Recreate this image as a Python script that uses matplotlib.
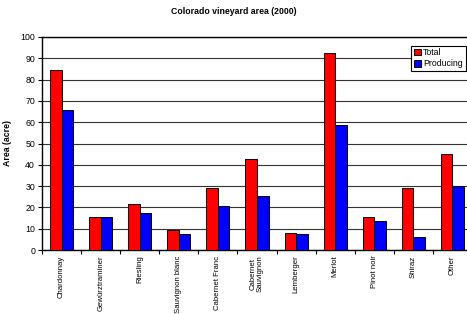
import numpy as np
import matplotlib.pyplot as plt

# Colorado vineyard area (2000), acres
varieties = ["Chardonnay", "Gewürztraminer", "Riesling", "Sauvignon blanc",
             "Cabernet Franc", "Cabernet\nSauvignon", "Lemberger", "Merlot",
             "Pinot noir", "Shiraz", "Other"]
total = [84.5, 15.5, 21.5, 9.5, 29, 42.5, 8, 92.5, 15.5, 29, 45]
producing = [65.5, 15.5, 17.5, 7.5, 20.5, 25.5, 7.5, 58.5, 13.5, 6, 30]

plt.rcParams['font.family'] = ['Liberation Sans', 'DejaVu Sans']

fig = plt.figure(figsize=(4.67, 3.14), dpi=100)
ax = fig.add_axes([42/467, 64/314, 430/467, 213/314])

x = np.arange(len(varieties))
w = 0.295
ax.bar(x - w/2, total, w, color='#ff0000', edgecolor='black', linewidth=0.7,
       label='Total', zorder=3)
ax.bar(x + w/2, producing, w, color='#0000ff', edgecolor='black', linewidth=0.7,
       label='Producing', zorder=3)

ax.set_xlim(-0.5, len(varieties) - 0.5)
ax.set_ylim(0, 100)
ax.set_yticks(range(0, 101, 10))
ax.tick_params(axis='y', labelsize=6.3, length=3, width=0.8, pad=2)
ax.set_xticks(x)
ax.set_xticklabels(varieties, rotation=90, fontsize=5.6, va='top', ha='center',
                   linespacing=1.0)
ax.tick_params(axis='x', length=0, pad=4)
ax.set_xticks(np.arange(len(varieties) + 1) - 0.5, minor=True)
ax.tick_params(axis='x', which='minor', length=3, width=0.8)

ax.grid(axis='y', color='#333333', linewidth=0.8, zorder=0)
for s in ['left', 'top', 'bottom']:
    ax.spines[s].set_linewidth(1.0)
ax.spines['right'].set_visible(False)

ax.set_ylabel("Area (acre)", fontsize=6.3, fontweight='bold', labelpad=6)
fig.text(0.5, 1 - 11/314, "Colorado vineyard area (2000)", fontsize=6.3,
         fontweight='bold', ha='center', va='center')

leg = ax.legend(loc='upper right', bbox_to_anchor=(0.985, 0.96), fontsize=6.3,
                frameon=True, fancybox=False, edgecolor='black', framealpha=1,
                handlelength=0.8, handleheight=0.8, handletextpad=0.3,
                borderpad=0.3, labelspacing=0.25, borderaxespad=0)
leg.get_frame().set_linewidth(0.8)

fig.savefig("out.png", dpi=100)
